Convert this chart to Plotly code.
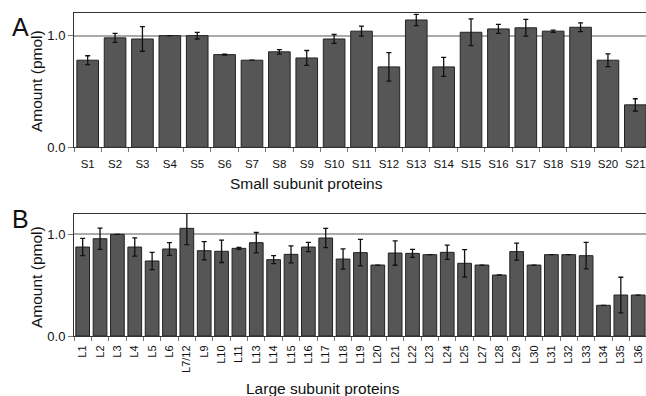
import plotly.graph_objects as go

small_labels = ["S1", "S2", "S3", "S4", "S5", "S6", "S7", "S8", "S9", "S10", "S11",
                "S12", "S13", "S14", "S15", "S16", "S17", "S18", "S19", "S20", "S21"]
small_vals = [0.78, 0.98, 0.97, 1.00, 1.00, 0.83, 0.78, 0.855, 0.80, 0.97, 1.04,
              0.72, 1.14, 0.72, 1.03, 1.06, 1.07, 1.04, 1.075, 0.78, 0.38]
small_err = [0.04, 0.04, 0.11, None, 0.03, 0.004, None, 0.02, 0.067, 0.04, 0.045,
             0.127, 0.05, 0.085, 0.12, 0.04, 0.075, 0.01, 0.04, 0.057, 0.055]

large_labels = ["L1", "L2", "L3", "L4", "L5", "L6", "L7/12", "L9", "L10", "L11", "L13",
                "L14", "L15", "L16", "L17", "L18", "L19", "L20", "L21", "L22", "L23",
                "L24", "L25", "L27", "L28", "L29", "L30", "L31", "L32", "L33", "L34",
                "L35", "L36"]
large_vals = [0.875, 0.957, 1.0, 0.875, 0.738, 0.856, 1.059, 0.839, 0.833, 0.862, 0.918,
              0.751, 0.803, 0.875, 0.964, 0.757, 0.82, 0.698, 0.816, 0.813, 0.80,
              0.823, 0.715, 0.698, 0.60, 0.83, 0.698, 0.80, 0.80, 0.79, 0.302,
              0.403, 0.403]
large_err = [0.085, 0.105, None, 0.09, 0.085, 0.062, 0.16, 0.09, 0.11, 0.01, 0.1,
             0.04, 0.083, 0.045, 0.095, 0.1, 0.13, None, 0.12, 0.04, None,
             0.07, 0.135, None, None, 0.084, None, None, None, 0.13, None,
             0.175, None]

FONT = "Liberation Sans, Arial, sans-serif"
BAR_COLOR = "#565656"
W, H = 646, 396

fig = go.Figure()

def err(arr):
    return dict(type="data", array=arr, visible=True, color="#111111",
                thickness=1.3, width=2.5)

fig.add_trace(go.Bar(x=small_labels, y=small_vals, error_y=err(small_err),
                     marker=dict(color=BAR_COLOR, line=dict(color="#222222", width=1)),
                     xaxis="x", yaxis="y", showlegend=False))
fig.add_trace(go.Bar(x=large_labels, y=large_vals, error_y=err(large_err),
                     marker=dict(color=BAR_COLOR, line=dict(color="#222222", width=1)),
                     xaxis="x2", yaxis="y2", showlegend=False))

x0 = 74 / W
dA = [1 - 147.3 / H, 1 - 13.3 / H]
dB = [1 - 336 / H, 1 - 214 / H]

xcommon = dict(type="category", showline=True, linecolor="#333333", linewidth=1,
               mirror=True, ticks="outside", tickson="boundaries", ticklen=4,
               tickcolor="#777777", showgrid=False, zeroline=False, automargin=False,
               tickfont=dict(family=FONT, size=11.5, color="#111111"))
ycommon = dict(range=[0, 1.2], tickvals=[0, 1], tickformat=".1f", showline=True,
               linecolor="#333333", linewidth=1, ticks="outside", ticklen=5,
               tickcolor="#777777", showgrid=True, gridcolor="#aaaaaa", gridwidth=1.5,
               zeroline=False, automargin=False,
               tickfont=dict(family=FONT, size=13, color="#111111"))

fig.update_layout(
    template="none",
    width=W, height=H, margin=dict(l=0, r=0, t=0, b=0, pad=0), autosize=False,
    paper_bgcolor="white", plot_bgcolor="white", bargap=0.21,
    xaxis=dict(xcommon, domain=[x0, 1], range=[-0.5, 20.39], anchor="y", tickangle=0,
               ticklabelstandoff=6),
    yaxis=dict(ycommon, domain=dA, anchor="x"),
    xaxis2=dict(xcommon, domain=[x0, 1], range=[-0.5, 32.45], anchor="y2",
                tickangle=-90, ticklabelstandoff=4,
                tickfont=dict(family=FONT, size=11, color="#111111")),
    yaxis2=dict(ycommon, domain=dB, anchor="x2"),
)

def ann(text, x, y, size, angle=0):
    fig.add_annotation(text=text, x=x / W, y=1 - y / H, xref="paper", yref="paper",
                       showarrow=False, textangle=angle, xanchor="center", yanchor="middle",
                       font=dict(family=FONT, size=size, color="#111111"))

ann("A", 20, 27, 25)
ann("B", 20, 219, 25)
ann("Amount (pmol)", 36.5, 81.5, 15.5, -90)
ann("Amount (pmol)", 36.5, 277.5, 15.5, -90)
ann("Small subunit proteins", 306, 183, 15.5)
ann("Large subunit proteins", 323, 388, 15.5)

fig.write_html("out.html")
